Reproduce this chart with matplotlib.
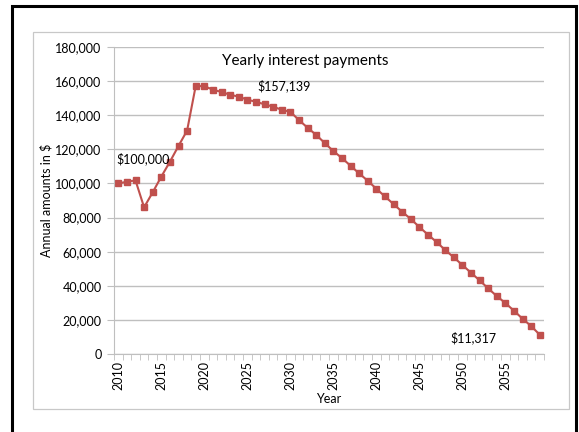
import matplotlib
matplotlib.use("Agg")
import matplotlib.pyplot as plt
from matplotlib.patches import Rectangle
from matplotlib.ticker import FuncFormatter, FixedLocator

plt.rcParams['font.family'] = ['Lato', 'DejaVu Sans']

years = list(range(2010, 2060))
payments = [100000, 101000, 101800, 86000, 94800, 104000, 112700, 122000, 131000, 157139,
            157000, 155000, 153600, 152000, 150900, 149100, 147900, 146400, 145000, 143200,
            142000, 137200, 132700, 128500, 123700, 119000, 114900, 110400, 105900, 101600,
            96900, 92400, 87900, 83400, 79200, 74500, 70000, 65700, 61000, 56700,
            52200, 47700, 43200, 38500, 34000, 29900, 25400, 20700, 16400, 11317]
title = "Yearly interest payments"
annotations = [(2010, 100000, "$100,000"), (2019, 157139, "$157,139"), (2059, 11317, "$11,317")]

W, H = 579, 432
fig = plt.figure(figsize=(W / 100, H / 100), dpi=100)

# outer black frame and grey chart area
fig.add_artist(Rectangle((12 / W, -0.05), (576 - 12) / W, 1.05 - 6 / H, transform=fig.transFigure,
                         fill=False, edgecolor='black', linewidth=2.2))
fig.add_artist(Rectangle((33 / W, 1 - 409 / H), (569 - 33) / W, (409 - 32) / H, transform=fig.transFigure,
                         fill=False, edgecolor='#c8c8c8', linewidth=0.9))

ax = fig.add_axes([114 / W, 1 - 354 / H, (544 - 114) / W, (354 - 47) / H])
x = list(range(len(years)))
ax.plot(x, payments, color='#C0504D', linewidth=1.5, marker='s', markersize=4.5,
        markerfacecolor='#C0504D', markeredgecolor='#C0504D')

ax.set_xlim(-0.5, len(years) - 0.5)
ax.set_ylim(0, 180000)
ax.set_yticks(range(0, 180001, 20000))
ax.yaxis.set_major_formatter(FuncFormatter(lambda v, p: f"{int(v):,}"))
ax.grid(axis='y', color='#bfbfbf', linewidth=1.0)
ax.set_axisbelow(True)

major = [i for i, yv in enumerate(years) if yv % 5 == 0]
ax.set_xticks(major)
ax.set_xticklabels([str(years[i]) for i in major], rotation=90, fontsize=9)
ax.xaxis.set_minor_locator(FixedLocator([i - 0.5 for i in range(len(years) + 1)]))
ax.tick_params(axis='x', which='major', length=0, pad=5)
ax.tick_params(axis='x', which='minor', length=4, color='#bfbfbf', direction='out')
ax.tick_params(axis='y', length=5, color='#bfbfbf', labelsize=9, pad=4)

for s in ['top', 'right']:
    ax.spines[s].set_visible(False)
for s in ['left', 'bottom']:
    ax.spines[s].set_color('#bfbfbf')

ax.set_ylabel("Annual amounts in $", fontsize=9, labelpad=2)
ax.set_xlabel("Year", fontsize=9, labelpad=2)

ax.text(0.445, 0.955, title, transform=ax.transAxes, ha='center', va='center', fontsize=11)

offsets = {2010: (-0.2, 14300, 'left'), 2019: (7.2, 0, 'left'), 2059: (-5.0, -1900, 'right')}
for yr, val, label in annotations:
    dx, dy, ha = offsets[yr]
    ax.text(years.index(yr) + dx, val + dy, label, ha=ha, va='center', fontsize=9)

fig.savefig("out.png", dpi=100)
